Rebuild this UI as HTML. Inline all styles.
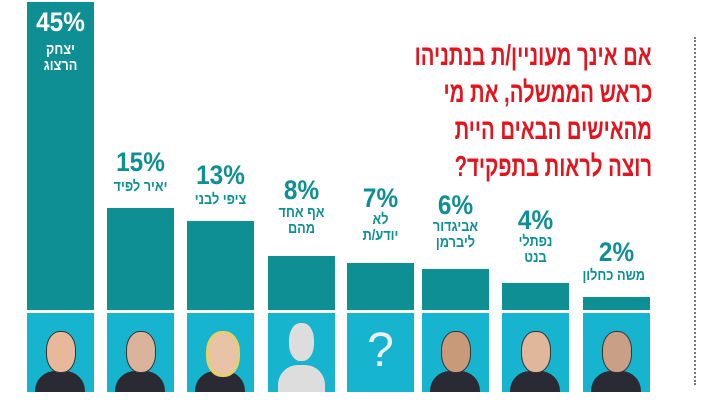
<!DOCTYPE html>
<html><head><meta charset="utf-8"><style>
body{margin:0;width:711px;height:400px;background:#fff;position:relative;overflow:hidden;font-family:"Liberation Sans","DejaVu Sans",sans-serif}
.b{position:absolute;background:#0e8f94}
.p{position:absolute;background:#17b4d0;top:313px;height:79px;overflow:hidden}
.l{position:absolute;text-align:center;color:#0e8f94;font-weight:bold;direction:rtl}
.pc{font-size:27px;line-height:28px;direction:ltr;transform:scaleX(0.9)}
.nm{font-size:15px;line-height:16px;transform:scaleX(0.85);white-space:nowrap}
.t{position:absolute;right:59px;color:#e3141e;font-weight:bold;font-size:29px;direction:rtl;white-space:nowrap;transform-origin:right center;transform:scaleX(0.7)}
.face{position:absolute;left:19px;top:18px;width:28px;height:40px;border-radius:45%;background:#e8b89a;border:1px solid #333}
.body{position:absolute;left:8px;top:58px;width:50px;height:30px;border-radius:20px 20px 0 0;background:#2a2a35}
</style></head><body>
<div class="b" style="left:27px;top:2px;width:67px;height:308px"></div>
<div class="b" style="left:107px;top:208px;width:67px;height:102px"></div>
<div class="b" style="left:187px;top:221px;width:67px;height:89px"></div>
<div class="b" style="left:268px;top:256px;width:67px;height:54px"></div>
<div class="b" style="left:347px;top:263px;width:67px;height:47px"></div>
<div class="b" style="left:422px;top:269px;width:67px;height:41px"></div>
<div class="b" style="left:502px;top:283px;width:67px;height:27px"></div>
<div class="b" style="left:583px;top:297px;width:67px;height:13px"></div>

<div class="p" style="left:27px;width:67px"><div class="body"></div><div class="face"></div></div>
<div class="p" style="left:107px;width:67px"><div class="body"></div><div class="face" style="background:#d9b49a"></div></div>
<div class="p" style="left:187px;width:67px"><div class="body"></div><div class="face" style="background:#e9c3a5;border-color:#e8cf6a;border-width:3px"></div></div>
<div class="p" style="left:268px;width:67px"><div class="body" style="background:#ddd;top:52px;left:10px;width:47px"></div><div class="face" style="background:#ddd;border:none;left:21px;top:10px;width:25px;height:38px"></div></div>
<div class="p" style="left:347px;width:67px"><div style="position:absolute;left:0;right:0;top:10px;text-align:center;color:#eee;font-size:48px">?</div></div>
<div class="p" style="left:422px;width:67px"><div class="body"></div><div class="face" style="background:#c99a7a"></div></div>
<div class="p" style="left:502px;width:67px"><div class="body"></div><div class="face" style="background:#e0b79a"></div></div>
<div class="p" style="left:583px;width:67px"><div class="body"></div><div class="face" style="background:#c99f85"></div></div>

<div class="l" style="left:27px;width:67px;top:8px;color:#fff"><div class="pc">45%</div><div class="nm" style="margin-top:6px">יצחק<br>הרצוג</div></div>
<div class="l" style="left:107px;width:67px;top:148px"><div class="pc">15%</div><div class="nm" style="margin-top:3px">יאיר לפיד</div></div>
<div class="l" style="left:187px;width:67px;top:161px"><div class="pc">13%</div><div class="nm" style="margin-top:3px">ציפי לבני</div></div>
<div class="l" style="left:268px;width:67px;top:176px"><div class="pc">8%</div><div class="nm" style="margin-top:1px">אף אחד<br>מהם</div></div>
<div class="l" style="left:347px;width:67px;top:184px"><div class="pc">7%</div><div class="nm" style="margin-top:0">לא<br>יודע/ת</div></div>
<div class="l" style="left:422px;width:67px;top:191px"><div class="pc">6%</div><div class="nm" style="margin-top:0">אביגדור<br>ליברמן</div></div>
<div class="l" style="left:502px;width:67px;top:206px"><div class="pc">4%</div><div class="nm" style="margin-top:0">נפתלי<br>בנט</div></div>
<div class="l" style="left:583px;width:67px;top:238px"><div class="pc">2%</div><div class="nm" style="margin-top:2px">משה כחלון</div></div>

<div class="t" style="top:40px">אם אינך מעוניין/ת בנתניהו</div>
<div class="t" style="top:77px">כראש הממשלה, את מי</div>
<div class="t" style="top:114px">מהאישים הבאים היית</div>
<div class="t" style="top:151px">רוצה לראות בתפקיד?</div>

<div style="position:absolute;left:694px;top:37px;height:348px;border-left:2px dotted #777"></div>
</body></html>
